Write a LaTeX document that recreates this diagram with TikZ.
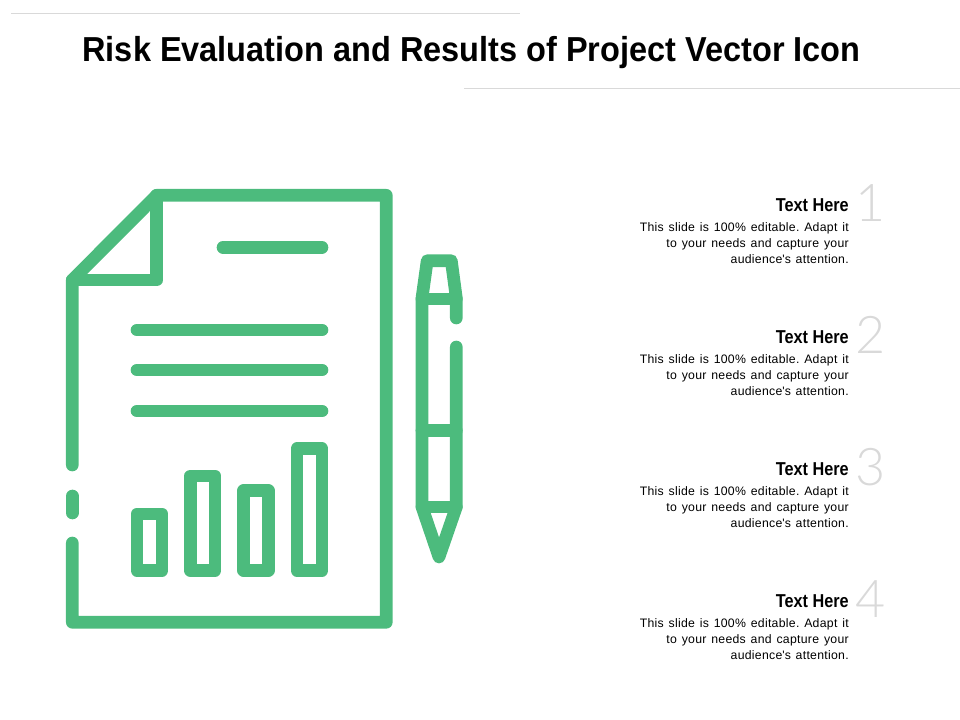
\documentclass[tikz,border=0pt]{standalone}
\usepackage{fontspec}
\setmainfont[WordSpace=1.31,LetterSpace=2.3]{Liberation Sans}
\newfontfamily\titlefont[FakeStretch=0.937]{Liberation Sans Bold}
\newfontfamily\headfont[FakeStretch=0.87]{Liberation Sans Bold}
\newfontfamily\digitfont{Lato Light}
\definecolor{icongreen}{RGB}{76,187,125}
\definecolor{rulegrey}{RGB}{217,217,217}
\definecolor{digitgrey}{RGB}{217,217,217}
\tikzset{
  iconline/.style={draw=icongreen,line width=9.5pt,line cap=round,line join=round},
  rulehair/.style={draw=rulegrey,line width=0.75pt},
  titletext/.style={anchor=base,inner sep=0pt,font=\titlefont\fontsize{26}{30}\selectfont},
  headtext/.style={anchor=base east,inner sep=0pt,font=\headfont\fontsize{14}{16}\selectfont},
  bodytext/.style={anchor=north east,inner sep=0pt,align=right,font=\fontsize{9.2}{12}\selectfont\frenchspacing},
  digittext/.style={anchor=base west,inner sep=0pt,text=digitgrey,font=\digitfont\fontsize{39}{42}\selectfont}
}
\newcommand{\blurb}{This slide is 100\% editable. Adapt it\\to your needs and capture your\\audience\textquotesingle s attention.}
\begin{document}
\begin{tikzpicture}[x=0.75pt,y=-0.75pt]
  \useasboundingbox (0,0) rectangle (960,720);
  % title and hairlines
  \draw[rulehair] (11,13.5) -- (520,13.5);
  \draw[rulehair] (464,88.5) -- (960,88.5);
  \node[titletext] (title) at (471.5,61.5) {Risk Evaluation and Results of Project Vector Icon};
  % sheet
  \draw[iconline] (72.3,465) -- (72.3,280) -- (156.7,195.3) -- (386.3,195.3) -- (386.3,622.3) -- (72.3,622.3) -- (72.3,543);
  \draw[iconline] (72.3,496) -- (72.3,513);
  \draw[iconline] (156.7,195.3) -- (156.7,280) -- (72.3,280);
  % text lines
  \draw[iconline] (223,247.3) -- (322,247.3);
  \draw[iconline] (137,330) -- (322,330);
  \draw[iconline] (137,370) -- (322,370);
  \draw[iconline] (137,411) -- (322,411);
  % bars
  \draw[iconline] (137,514) rectangle (162,570.5);
  \draw[iconline] (190.3,476) rectangle (215,570.5);
  \draw[iconline] (243.7,490.6) rectangle (268.3,570.5);
  \draw[iconline] (297,448.7) rectangle (322,570.5);
  % pen
  \draw[iconline] (456.3,318) -- (456.3,298) -- (451.3,260.7) -- (427.2,260.7) -- (422,298) -- (422,507) -- (439,557) -- (456.3,507) -- (456.3,347);
  \draw[iconline] (422,299) -- (456.3,299);
  \draw[iconline] (422,430.7) -- (456.3,430.7);
  \draw[iconline] (422,507) -- (456.3,507);
  % captions
  \node[headtext] (head1) at (849,211.5) {Text Here};
  \node[bodytext] (body1) at (849,222) {\blurb};
  \node[digittext] (num1) at (855,221.5) {1};
  \node[headtext] (head2) at (849,343.5) {Text Here};
  \node[bodytext] (body2) at (849,354) {\blurb};
  \node[digittext] (num2) at (855,353.5) {2};
  \node[headtext] (head3) at (849,475.5) {Text Here};
  \node[bodytext] (body3) at (849,486) {\blurb};
  \node[digittext] (num3) at (855,485.5) {3};
  \node[headtext] (head4) at (849,607.5) {Text Here};
  \node[bodytext] (body4) at (849,618) {\blurb};
  \node[digittext] (num4) at (855,617.5) {4};
\end{tikzpicture}
\end{document}
